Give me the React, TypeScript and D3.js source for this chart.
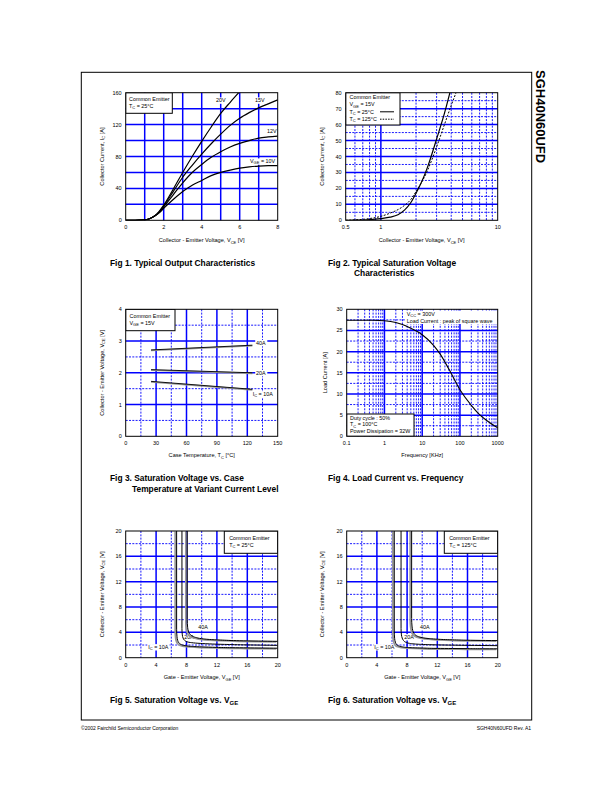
import React from 'react';
import * as d3 from 'd3';

const FONT = '"Liberation Sans", Arial, Helvetica, sans-serif';
const BLUE = '#0000ff';
const TICK_FS = 5.5;
const TITLE_FS = 5.6;
const LEG_FS = 5.4;
const CAP_FS = 8.4;

// ---------------- Fig 1 : Typical Output Characteristics ----------------
const fig1XTicks = [0, 2, 4, 6, 8];
const fig1YTicks = [0, 40, 80, 120, 160];
const fig1Vce = [0, 0.5, 1, 1.25, 1.5, 1.75, 2, 2.5, 3, 3.5, 4, 4.5, 5, 5.5, 6, 6.5, 7, 7.5, 8];
const fig1Vce20 = [0, 0.5, 1, 1.25, 1.5, 1.75, 2, 2.5, 3, 3.5, 4, 4.5, 5, 5.5, 5.95];
const fig1Ic20V = [0, 0, 0.6, 2, 5, 11, 19, 39, 60, 80, 99, 117, 134, 148, 160];
const fig1Ic15V = [0, 0, 0.6, 2, 5, 10, 18, 36, 54, 69, 83, 96, 108, 119, 128, 135, 141, 146, 151];
const fig1Ic12V = [0, 0, 0.6, 2, 5, 10, 17, 32, 47, 60, 70, 79, 86, 92, 96.5, 100, 103, 104.5, 105.5];
const fig1Ic10V = [0, 0, 0.6, 2, 5, 9, 15, 26, 36, 44, 50, 56, 60, 63, 65.5, 67, 68, 68.5, 68.5];

// ---------------- Fig 2 : Typical Saturation Voltage ----------------
const fig2XTicks = [0.5, 1, 10];
const fig2YTicks = [0, 10, 20, 30, 40, 50, 60, 70, 80];
const fig2Vce25 = [0.5, 0.6, 0.7, 0.8, 0.9, 1, 1.2, 1.4, 1.6, 1.8, 2, 2.2, 2.5, 3, 3.5, 3.9];
const fig2Ic25 = [0, 0.1, 0.2, 0.4, 0.7, 1.1, 2, 3.5, 6.5, 11, 17, 23, 33, 51, 67, 80];
const fig2Vce125 = [0.5, 0.6, 0.7, 0.8, 0.9, 1, 1.2, 1.5, 1.8, 2, 2.5, 3, 3.5, 4, 4.4];
const fig2Ic125 = [0, 0.3, 0.6, 1.1, 1.7, 2.5, 4.5, 8, 13, 18, 31, 46, 60, 72, 80];

// ---------------- Fig 3 : Saturation Voltage vs Case Temperature ----------------
const fig3XTicks = [0, 30, 60, 90, 120, 150];
const fig3YTicks = [0, 1, 2, 3, 4];
const fig3Temp = [25, 125];
const fig3V40A = [2.72, 2.87];
const fig3V20A = [2.1, 2.0];
const fig3V10A = [1.73, 1.48];

// ---------------- Fig 4 : Load Current vs Frequency ----------------
const fig4XTicks = [0.1, 1, 10, 100, 1000];
const fig4YTicks = [0, 5, 10, 15, 20, 25, 30];
const fig4Freq = [0.1, 0.2, 0.5, 1, 2, 3, 5, 10, 20, 30, 50, 100, 200, 300, 500, 1000];
const fig4Load = [27.4, 27.4, 27.4, 27.3, 26.9, 26.4, 25.5, 24.0, 21.5, 19.4, 16.0, 11.0, 7.3, 5.5, 3.8, 2.0];

// ---------------- Fig 5 : Saturation Voltage vs VGE (25C) ----------------
const fig56Ticks = [0, 4, 8, 12, 16, 20];
const fig5Vge10A = [6.7, 6.7, 6.75, 6.85, 7.0, 7.3, 7.8, 8.5, 10, 12, 14, 16, 18, 20];
const fig5Vce10A = [20, 4.5, 3.3, 2.7, 2.35, 2.08, 1.9, 1.8, 1.7, 1.63, 1.58, 1.55, 1.52, 1.5];
const fig5Vge20A = [7.4, 7.4, 7.45, 7.55, 7.7, 8, 8.5, 9.5, 11, 13, 16, 20];
const fig5Vce20A = [20, 4.6, 3.6, 3.1, 2.8, 2.55, 2.4, 2.28, 2.18, 2.1, 2.02, 1.95];
const fig5Vge40A = [8.1, 8.1, 8.15, 8.25, 8.4, 8.7, 9.2, 10, 11, 12.5, 15, 17.5, 20];
const fig5Vce40A = [20, 6, 4.8, 4.2, 3.8, 3.45, 3.2, 3.0, 2.88, 2.78, 2.68, 2.62, 2.58];

// ---------------- Fig 6 : Saturation Voltage vs VGE (125C) ----------------
const fig6Vge10A = [6.3, 6.3, 6.35, 6.45, 6.6, 6.9, 7.4, 8.2, 10, 12, 14, 16, 18, 20];
const fig6Vce10A = [20, 4.2, 3.0, 2.45, 2.1, 1.85, 1.7, 1.6, 1.52, 1.47, 1.45, 1.43, 1.41, 1.4];
const fig6Vge20A = [7.2, 7.2, 7.25, 7.35, 7.5, 7.8, 8.3, 9.3, 11, 13, 16, 20];
const fig6Vce20A = [20, 4.6, 3.6, 3.1, 2.75, 2.45, 2.27, 2.14, 2.05, 2.0, 1.95, 1.9];
const fig6Vge40A = [8.6, 8.6, 8.65, 8.75, 8.9, 9.2, 9.7, 10.5, 12, 14, 17, 20];
const fig6Vce40A = [20, 6.2, 5.0, 4.3, 3.85, 3.5, 3.25, 3.07, 2.92, 2.82, 2.74, 2.7];

type Box = { x0: number; x1: number; y0: number; y1: number };

function pathOf(xs: any, ys: any, xa: number[], ya: number[], curve: any) {
  const pts: [number, number][] = xa.map((x, i) => [x, ya[i]]);
  return d3
    .line<[number, number]>()
    .x((d) => xs(d[0]))
    .y((d) => ys(d[1]))
    .curve(curve)(pts) as string;
}

function range(a: number, b: number, step: number) {
  const out: number[] = [];
  for (let v = a; v <= b + 1e-9; v += step) out.push(+v.toFixed(6));
  return out;
}

function Panel(props: {
  id: string;
  box: Box;
  xs: any;
  ys: any;
  xSolid: number[];
  xDashed: number[];
  ySolid: number[];
  yDashed: number[];
  xTicks: number[];
  yTicks: number[];
  xTitle: React.ReactNode;
  yTitle: React.ReactNode;
  yTitleX: number;
  xTitleY: number;
  children?: React.ReactNode;
}) {
  const { id, box, xs, ys } = props;
  return (
    <g>
      <defs>
        <clipPath id={id}>
          <rect x={box.x0} y={box.y0} width={box.x1 - box.x0} height={box.y1 - box.y0} />
        </clipPath>
      </defs>
      <rect x={box.x0} y={box.y0} width={box.x1 - box.x0} height={box.y1 - box.y0} fill="#fff" />
      {props.xDashed.map((v, i) => (
        <line key={'xd' + i} x1={xs(v)} x2={xs(v)} y1={box.y0} y2={box.y1} stroke={BLUE} strokeWidth={0.9} strokeDasharray="2,1.3" />
      ))}
      {props.yDashed.map((v, i) => (
        <line key={'yd' + i} y1={ys(v)} y2={ys(v)} x1={box.x0} x2={box.x1} stroke={BLUE} strokeWidth={0.9} strokeDasharray="2,1.3" />
      ))}
      {props.xSolid.map((v, i) => (
        <line key={'xs' + i} x1={xs(v)} x2={xs(v)} y1={box.y0} y2={box.y1} stroke={BLUE} strokeWidth={1.5} />
      ))}
      {props.ySolid.map((v, i) => (
        <line key={'ys' + i} y1={ys(v)} y2={ys(v)} x1={box.x0} x2={box.x1} stroke={BLUE} strokeWidth={1.5} />
      ))}
      <g clipPath={`url(#${id})`}>{props.children}</g>
      <rect x={box.x0} y={box.y0} width={box.x1 - box.x0} height={box.y1 - box.y0} fill="none" stroke="#000" strokeWidth={1} />
      {props.xTicks.map((v, i) => (
        <text key={'xt' + i} x={xs(v)} y={box.y1 + 9} fontSize={TICK_FS} textAnchor="middle">
          {String(v)}
        </text>
      ))}
      {props.yTicks.map((v, i) => (
        <text key={'yt' + i} x={box.x0 - 4} y={ys(v) + 2} fontSize={TICK_FS} textAnchor="end">
          {String(v)}
        </text>
      ))}
      <text x={(box.x0 + box.x1) / 2} y={props.xTitleY} fontSize={TITLE_FS} textAnchor="middle">
        {props.xTitle}
      </text>
      <text
        transform={`translate(${props.yTitleX},${(box.y0 + box.y1) / 2}) rotate(-90)`}
        fontSize={TITLE_FS}
        textAnchor="middle"
      >
        {props.yTitle}
      </text>
    </g>
  );
}

function LegendBox(p: { x: number; y: number; w: number; h: number }) {
  return <rect x={p.x} y={p.y} width={p.w} height={p.h} fill="#fff" stroke="#000" strokeWidth={1} />;
}

// a curve label sitting on a small white patch
function Label(p: { x: number; y: number; w: number; children: React.ReactNode }) {
  return (
    <g>
      <rect x={p.x - 0.8} y={p.y - 4.6} width={p.w + 1.6} height={6.4} fill="#fff" />
      <text x={p.x} y={p.y} fontSize={LEG_FS}>
        {p.children}
      </text>
    </g>
  );
}

const VCE_TITLE = (
  <>
    <tspan>Collector - Emitter Voltage, V</tspan>
    <tspan fontSize={4} dy={1.5}>CE</tspan>
    <tspan dy={-1.5}> [V]</tspan>
  </>
);

function Fig1() {
  const b: Box = { x0: 125.7, x1: 277.7, y0: 92.7, y1: 220.3 };
  const xs = d3.scaleLinear().domain([0, 8]).range([b.x0, b.x1]);
  const ys = d3.scaleLinear().domain([0, 160]).range([b.y1, b.y0]);
  const c = d3.curveMonotoneX;
  const series = [
    pathOf(xs, ys, fig1Vce20, fig1Ic20V, c),
    pathOf(xs, ys, fig1Vce, fig1Ic15V, c),
    pathOf(xs, ys, fig1Vce, fig1Ic12V, c),
    pathOf(xs, ys, fig1Vce, fig1Ic10V, c),
  ];
  return (
    <Panel
      id="c1"
      box={b}
      xs={xs}
      ys={ys}
      xSolid={range(1, 7, 1)}
      xDashed={[]}
      ySolid={range(20, 140, 20)}
      yDashed={[]}
      xTicks={fig1XTicks}
      yTicks={fig1YTicks}
      xTitle={VCE_TITLE}
      yTitle={
        <>
          <tspan>Collector Current, I</tspan>
          <tspan fontSize={4} dy={1.5}>C</tspan>
          <tspan dy={-1.5}> [A]</tspan>
        </>
      }
      yTitleX={103.5}
      xTitleY={242}
    >
      {series.map((d, i) => (
        <path key={i} d={d} fill="none" stroke="#000" strokeWidth={1.2} />
      ))}
      <LegendBox x={b.x0} y={b.y0} w={46.6} h={20.6} />
      <text x={129} y={101} fontSize={LEG_FS}>Common Emitter</text>
      <text x={129} y={108} fontSize={LEG_FS}>
        T<tspan fontSize={4} dy={1.3}>C</tspan>
        <tspan dy={-1.3}> = 25°C</tspan>
      </text>
      <Label x={216} y={102} w={10.5}>20V</Label>
      <Label x={255} y={102} w={10.5}>15V</Label>
      <Label x={267} y={133} w={10.5}>12V</Label>
      <Label x={250} y={163} w={25}>
        V<tspan fontSize={4} dy={1.3}>GE</tspan>
        <tspan dy={-1.3}> = 10V</tspan>
      </Label>
    </Panel>
  );
}

function Fig2() {
  const b: Box = { x0: 345.7, x1: 497.7, y0: 92.7, y1: 220.3 };
  const xs = d3.scaleLog().domain([0.5, 10]).range([b.x0, b.x1]);
  const ys = d3.scaleLinear().domain([0, 80]).range([b.y1, b.y0]);
  const c = d3.curveMonotoneX;
  return (
    <Panel
      id="c2"
      box={b}
      xs={xs}
      ys={ys}
      xSolid={[1]}
      xDashed={[0.6, 0.7, 0.8, 0.9, 2, 3, 4, 5, 6, 7, 8, 9]}
      ySolid={range(10, 70, 10)}
      yDashed={range(5, 75, 10)}
      xTicks={fig2XTicks}
      yTicks={fig2YTicks}
      xTitle={VCE_TITLE}
      yTitle={
        <>
          <tspan>Collector Current, I</tspan>
          <tspan fontSize={4} dy={1.5}>C</tspan>
          <tspan dy={-1.5}> [A]</tspan>
        </>
      }
      yTitleX={323.5}
      xTitleY={242}
    >
      <path d={pathOf(xs, ys, fig2Vce25, fig2Ic25, c)} fill="none" stroke="#000" strokeWidth={1.2} />
      <path d={pathOf(xs, ys, fig2Vce125, fig2Ic125, c)} fill="none" stroke="#000" strokeWidth={1} strokeDasharray="2,1.5" />
      <LegendBox x={b.x0} y={b.y0} w={54.3} h={32.3} />
      <text x={349.5} y={99} fontSize={LEG_FS}>Common Emitter</text>
      <text x={349.5} y={106.3} fontSize={LEG_FS}>
        V<tspan fontSize={4} dy={1.3}>GE</tspan>
        <tspan dy={-1.3}> = 15V</tspan>
      </text>
      <text x={349.5} y={113.6} fontSize={LEG_FS}>
        T<tspan fontSize={4} dy={1.3}>C</tspan>
        <tspan dy={-1.3}> =   25°C</tspan>
      </text>
      <line x1={380} x2={394} y1={111.8} y2={111.8} stroke="#000" strokeWidth={1} />
      <text x={349.5} y={121} fontSize={LEG_FS}>
        T<tspan fontSize={4} dy={1.3}>C</tspan>
        <tspan dy={-1.3}> = 125°C</tspan>
      </text>
      <line x1={380} x2={394} y1={119.2} y2={119.2} stroke="#000" strokeWidth={1} strokeDasharray="1.5,1.2" />
    </Panel>
  );
}

function Fig3() {
  const b: Box = { x0: 125.7, x1: 277.7, y0: 309.3, y1: 436.3 };
  const xs = d3.scaleLinear().domain([0, 150]).range([b.x0, b.x1]);
  const ys = d3.scaleLinear().domain([0, 4]).range([b.y1, b.y0]);
  const c = d3.curveLinear;
  const lines = [fig3V40A, fig3V20A, fig3V10A].map((v) => pathOf(xs, ys, fig3Temp, v, c));
  return (
    <Panel
      id="c3"
      box={b}
      xs={xs}
      ys={ys}
      xSolid={[30, 60, 90, 120]}
      xDashed={range(15, 135, 30)}
      ySolid={[1, 2, 3]}
      yDashed={[0.5, 1.5, 2.5, 3.5]}
      xTicks={fig3XTicks}
      yTicks={fig3YTicks}
      xTitle={
        <>
          <tspan>Case Temperature, T</tspan>
          <tspan fontSize={4} dy={1.5}>C</tspan>
          <tspan dy={-1.5}> [°C]</tspan>
        </>
      }
      yTitle={VCE_TITLE}
      yTitleX={103.5}
      xTitleY={457}
    >
      {lines.map((d, i) => (
        <g key={i}>
          <path d={d} fill="none" stroke="#999" strokeWidth={1.6} transform="translate(0,0.6)" />
          <path d={d} fill="none" stroke="#000" strokeWidth={0.9} />
        </g>
      ))}
      <LegendBox x={b.x0} y={b.y0} w={49.3} h={21.4} />
      <text x={129.5} y={317.5} fontSize={LEG_FS}>Common Emitter</text>
      <text x={129.5} y={325} fontSize={LEG_FS}>
        V<tspan fontSize={4} dy={1.3}>GE</tspan>
        <tspan dy={-1.3}> = 15V</tspan>
      </text>
      <Label x={256} y={344.5} w={10.5}>40A</Label>
      <Label x={256} y={374.5} w={10.5}>20A</Label>
      <Label x={252.7} y={396} w={20.5}>
        I<tspan fontSize={4} dy={1.3}>C</tspan>
        <tspan dy={-1.3}> = 10A</tspan>
      </Label>
    </Panel>
  );
}

function Fig4() {
  const b: Box = { x0: 346.7, x1: 497.7, y0: 309.3, y1: 436.3 };
  const xs = d3.scaleLog().domain([0.1, 1000]).range([b.x0, b.x1]);
  const ys = d3.scaleLinear().domain([0, 30]).range([b.y1, b.y0]);
  const minor: number[] = [];
  [0.1, 1, 10, 100].forEach((d) => {
    for (let k = 2; k <= 9; k++) minor.push(+(d * k).toFixed(4));
  });
  return (
    <Panel
      id="c4"
      box={b}
      xs={xs}
      ys={ys}
      xSolid={[1, 10, 100]}
      xDashed={minor}
      ySolid={[5, 10, 15, 20, 25]}
      yDashed={[2.5, 7.5, 12.5, 17.5, 22.5, 27.5]}
      xTicks={fig4XTicks}
      yTicks={fig4YTicks}
      xTitle={<tspan>Frequency [KHz]</tspan>}
      yTitle={<tspan>Load Current  [A]</tspan>}
      yTitleX={327}
      xTitleY={457}
    >
      <path d={pathOf(xs, ys, fig4Freq, fig4Load, d3.curveMonotoneX)} fill="none" stroke="#000" strokeWidth={1.1} />
      <rect x={405.5} y={310.5} width={91.5} height={13.5} fill="#fff" />
      <text x={406.7} y={316} fontSize={LEG_FS}>
        V<tspan fontSize={4} dy={1.3}>CC</tspan>
        <tspan dy={-1.3}> = 300V</tspan>
      </text>
      <text x={406.7} y={322.7} fontSize={LEG_FS}>Load Current : peak of square wave</text>
      <LegendBox x={b.x0} y={414} w={67.3} h={22.3} />
      <text x={350} y={419.5} fontSize={LEG_FS}>Duty cycle : 50%</text>
      <text x={350} y={426.3} fontSize={LEG_FS}>
        T<tspan fontSize={4} dy={1.3}>C</tspan>
        <tspan dy={-1.3}> = 100°C</tspan>
      </text>
      <text x={350} y={433.2} fontSize={LEG_FS}>Power Dissipation = 32W</text>
    </Panel>
  );
}

function VgeFig(p: {
  id: string;
  box: Box;
  temp: string;
  data: { x: number[]; y: number[]; gray: boolean }[];
  labels: { x: number; y: number; w: number; t: React.ReactNode }[];
  yTitleX: number;
}) {
  const b = p.box;
  const xs = d3.scaleLinear().domain([0, 20]).range([b.x0, b.x1]);
  const ys = d3.scaleLinear().domain([0, 20]).range([b.y1, b.y0]);
  return (
    <Panel
      id={p.id}
      box={b}
      xs={xs}
      ys={ys}
      xSolid={[4, 8, 12, 16]}
      xDashed={[2, 6, 10, 14, 18]}
      ySolid={[4, 8, 12, 16]}
      yDashed={[2, 6, 10, 14, 18]}
      xTicks={fig56Ticks}
      yTicks={fig56Ticks}
      xTitle={
        <>
          <tspan>Gate - Emitter Voltage, V</tspan>
          <tspan fontSize={4} dy={1.5}>GE</tspan>
          <tspan dy={-1.5}> [V]</tspan>
        </>
      }
      yTitle={VCE_TITLE}
      yTitleX={p.yTitleX}
      xTitleY={679}
    >
      {p.labels.map((l, i) => (
        <Label key={'l' + i} x={l.x} y={l.y} w={l.w}>
          {l.t}
        </Label>
      ))}
      {p.data.map((s, i) => {
        const d = pathOf(xs, ys, s.x, s.y, d3.curveMonotoneY);
        return (
          <g key={i}>
            {s.gray && <path d={d} fill="none" stroke="#999" strokeWidth={1.8} transform="translate(-1.4,0.6)" />}
            <path d={d} fill="none" stroke="#000" strokeWidth={1} />
          </g>
        );
      })}
      <LegendBox x={b.x1 - 53.4} y={b.y0} w={53.4} h={22.3} />
      <text x={b.x1 - 48.5} y={540} fontSize={LEG_FS}>Common Emitter</text>
      <text x={b.x1 - 48.5} y={547} fontSize={LEG_FS}>
        T<tspan fontSize={4} dy={1.3}>C</tspan>
        <tspan dy={-1.3}> = {p.temp}</tspan>
      </text>
    </Panel>
  );
}

const IC10 = (
  <>
    I<tspan fontSize={4} dy={1.3}>C</tspan>
    <tspan dy={-1.3}> = 10A</tspan>
  </>
);

function Caption(p: { x: number; y: number; lines: React.ReactNode[]; indent?: number }) {
  return (
    <g>
      {p.lines.map((l, i) => (
        <text key={i} x={p.x + (i > 0 ? p.indent || 0 : 0)} y={p.y + i * 10.8} fontSize={CAP_FS} fontWeight="bold">
          {l}
        </text>
      ))}
    </g>
  );
}

const VGE_CAP = (n: number) => (
  <>
    <tspan>Fig {n}. Saturation Voltage vs. V</tspan>
    <tspan fontSize={6} dy={2}>GE</tspan>
  </>
);

export default function App() {
  return (
    <svg
      width={612}
      height={792}
      style={{ position: 'absolute', left: 0, top: 0 }}
      fontFamily={FONT}
    >
      <rect width={612} height={792} fill="#fff" />
      <rect x={81.3} y={72.3} width={450.4} height={647.7} fill="none" stroke="#000" strokeWidth={1} />
      <text transform="translate(536,70) rotate(90)" fontSize={13} fontWeight="bold">
        SGH40N60UFD
      </text>

      <Fig1 />
      <Fig2 />
      <Fig3 />
      <Fig4 />
      <VgeFig
        id="c5"
        box={{ x0: 125.7, x1: 277.7, y0: 531, y1: 657.7 }}
        temp="25°C"
        data={[
          { x: fig5Vge10A, y: fig5Vce10A, gray: true },
          { x: fig5Vge20A, y: fig5Vce20A, gray: false },
          { x: fig5Vge40A, y: fig5Vce40A, gray: true },
        ]}
        labels={[
          { x: 198.3, y: 628.7, w: 10.5, t: '40A' },
          { x: 184.3, y: 639.3, w: 10.5, t: '20A' },
          { x: 148.3, y: 648.7, w: 20.5, t: IC10 },
        ]}
        yTitleX={103.5}
      />
      <VgeFig
        id="c6"
        box={{ x0: 346.7, x1: 497.7, y0: 531, y1: 657.7 }}
        temp="125°C"
        data={[
          { x: fig6Vge10A, y: fig6Vce10A, gray: true },
          { x: fig6Vge20A, y: fig6Vce20A, gray: false },
          { x: fig6Vge40A, y: fig6Vce40A, gray: true },
        ]}
        labels={[
          { x: 420, y: 628.7, w: 10.5, t: '40A' },
          { x: 404.3, y: 638.7, w: 10.5, t: '20A' },
          { x: 374.3, y: 648.7, w: 20.5, t: IC10 },
        ]}
        yTitleX={323.5}
      />

      <Caption x={110} y={265.5} lines={['Fig 1. Typical Output Characteristics']} />
      <Caption x={328} y={265.5} indent={26} lines={['Fig 2. Typical Saturation Voltage', 'Characteristics']} />
      <Caption x={110} y={481} indent={22} lines={['Fig 3. Saturation Voltage vs. Case', 'Temperature at Variant Current Level']} />
      <Caption x={328} y={481} lines={['Fig 4. Load Current vs. Frequency']} />
      <Caption x={110} y={703} lines={[VGE_CAP(5)]} />
      <Caption x={328} y={703} lines={[VGE_CAP(6)]} />

      <text x={81} y={730} fontSize={5}>©2002 Fairchild Semiconductor Corporation</text>
      <text x={531} y={730} fontSize={5} textAnchor="end">SGH40N60UFD Rev. A1</text>
    </svg>
  );
}
